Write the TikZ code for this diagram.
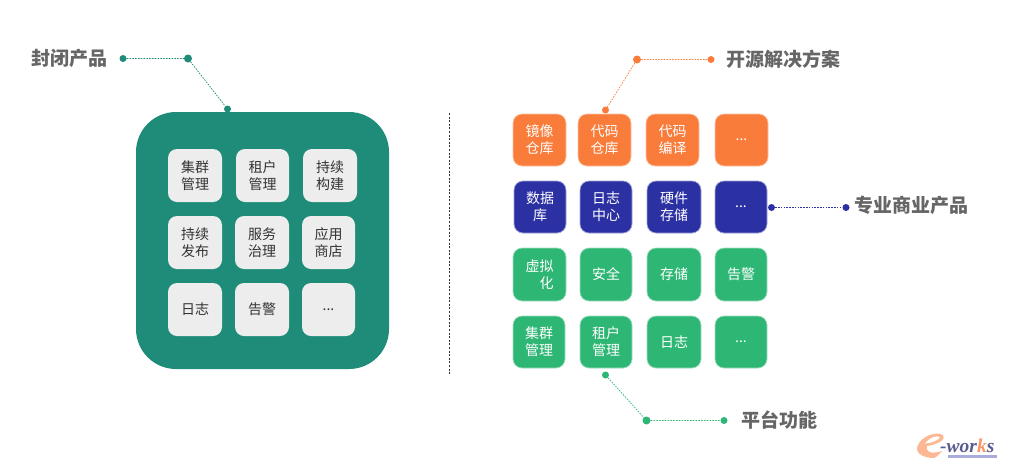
\documentclass[tikz,border=0pt]{standalone}
\usepackage{fontspec}
\setmainfont{Noto Sans CJK SC}
\newfontfamily\logofont{Liberation Serif}
\definecolor{teal1}{HTML}{1E8C78}
\definecolor{orange1}{HTML}{F97C3A}
\definecolor{blue1}{HTML}{2B31A3}
\definecolor{green1}{HTML}{2DB674}
\definecolor{cellgray}{HTML}{EDEDED}
\definecolor{labelgray}{HTML}{666666}
\definecolor{textdark}{HTML}{333333}
\tikzset{
  cell/.style={rounded corners=9pt,inner sep=0pt,outer sep=0pt,align=center,
    font=\fontsize{14}{17}\selectfont},
  graycell/.style={cell,fill=cellgray,text=textdark},
  orangecell/.style={cell,fill=orange1,draw=orange1!45!white,line width=0.7pt,text=white},
  bluecell/.style={cell,fill=blue1,draw=blue1!45!white,line width=0.7pt,text=white},
  greencell/.style={cell,fill=green1,draw=green1!45!white,line width=0.7pt,text=white},
  dot/.style={circle,inner sep=0pt,minimum size=#1},
  dot/.default=7pt,
  callout/.style={font=\fontsize{19}{22}\selectfont\bfseries,text=labelgray,inner sep=0pt},
  lead/.style={line width=0.7pt,dash pattern=on 1.6pt off 1.2pt},
}
\newcommand{\cellbox}[7]{% style,name,x0,x1,y0,y1,text
  \node[#1,minimum width=#4pt-#3pt,minimum height=#6pt-#5pt] (#2) at ({(#3+#4)/2},{(#5+#6)/2}) {#7};}
\begin{document}
\begin{tikzpicture}[x=1pt,y=-1pt]
\useasboundingbox (0,0) rectangle (1012,469);
\node[rounded corners=40pt,fill=teal1,inner sep=0pt,minimum width=253pt,minimum height=257pt] (big) at (262.5,240.5) {};
% left grid
\cellbox{graycell}{a1}{168}{222}{149}{202}{集群\\管理}
\cellbox{graycell}{a2}{236}{289}{149}{202}{租户\\管理}
\cellbox{graycell}{a3}{303}{357}{149}{202}{持续\\构建}
\cellbox{graycell}{b1}{168}{222}{216}{269}{持续\\发布}
\cellbox{graycell}{b2}{235}{289}{216}{269}{服务\\治理}
\cellbox{graycell}{b3}{302}{355}{216}{269}{应用\\商店}
\cellbox{graycell}{c1}{168}{222}{283}{336}{日志}
\cellbox{graycell}{c2}{235}{289}{283}{336}{告警}
\cellbox{graycell}{c3}{302}{355}{283}{336}{...}
% divider
\coordinate (divtop) at (449,113);
\coordinate (divbot) at (449,375);
\draw[line width=0.8pt,textdark,dash pattern=on 2pt off 1.6pt] (divtop) -- (divbot);
% orange row
\cellbox{orangecell}{o1}{513}{566}{114}{166}{镜像\\仓库}
\cellbox{orangecell}{o2}{578}{631}{114}{166}{代码\\仓库}
\cellbox{orangecell}{o3}{646}{699}{114}{166}{代码\\编译}
\cellbox{orangecell}{o4}{715}{768}{114}{166}{...}
% blue row
\cellbox{bluecell}{p1}{514}{566}{181}{233}{数据\\库}
\cellbox{bluecell}{p2}{580}{632}{181}{233}{日志\\中心}
\cellbox{bluecell}{p3}{647}{701}{181}{233}{硬件\\存储}
\cellbox{bluecell}{p4}{715}{767}{181}{233}{...}
% green rows
\cellbox{greencell}{g1}{513}{566}{248}{301}{虚拟\\\hspace*{14pt}化}
\cellbox{greencell}{g2}{580}{632}{248}{301}{安全}
\cellbox{greencell}{g3}{647}{701}{248}{301}{存储}
\cellbox{greencell}{g4}{715}{767}{248}{301}{告警}
\cellbox{greencell}{h1}{513}{565}{316}{368}{集群\\管理}
\cellbox{greencell}{h2}{580}{632}{316}{368}{租户\\管理}
\cellbox{greencell}{h3}{647}{701}{316}{368}{日志}
\cellbox{greencell}{h4}{715}{767}{316}{368}{...}
% callouts
\node[callout,anchor=center] (lclosed) at (69,58) {封闭产品};
\node[dot=7pt,fill=teal1] (d1) at (123,58.5) {};
\node[dot=8pt,fill=teal1] (d2) at (188,58.5) {};
\node[dot=7pt,fill=teal1] (d3) at (227.5,109) {};
\draw[lead,teal1] (d1) -- (d2) -- (d3);
\node[callout,anchor=center] (lopen) at (783,59) {开源解决方案};
\node[dot=7pt,fill=orange1] (e1) at (711,59.5) {};
\node[dot=8pt,fill=orange1] (e2) at (637,59.5) {};
\node[dot=7pt,fill=orange1] (e3) at (605.5,110) {};
\draw[lead,orange1] (e1) -- (e2) -- (e3);
\node[callout,anchor=center] (lpro) at (911,205) {专业商业产品};
\node[dot=7pt,fill=blue1] (f1) at (771.5,207.5) {};
\node[dot=7pt,fill=blue1] (f2) at (846,207.5) {};
\draw[lead,blue1] (f1) -- (f2);
\node[callout,anchor=center] (lplat) at (779,420) {平台功能};
\node[dot=7pt,fill=green1] (k1) at (605.5,375) {};
\node[dot=8pt,fill=green1] (k2) at (646.5,420.5) {};
\node[dot=7pt,fill=green1] (k3) at (724,420.5) {};
\draw[lead,green1] (k1) -- (k2) -- (k3);
% logo
\fill[orange1!55!white] (934,458) .. controls (922,458) and (914,452) .. (918,445)
  .. controls (922,436) and (936,431) .. (943,435) .. controls (946,438) and (941,444) .. (927,446)
  .. controls (925,451) and (930,455) .. (942,451) .. controls (937,456) and (936,458) .. (934,458) -- cycle;
\fill[white] (925,443.5) .. controls (929,438) and (936,435) .. (940,437) .. controls (939,440) and (932,443) .. (925,443.5) -- cycle;
\fill[blue1!40!white] (948,455) rectangle (997,457.5);
\node[inner sep=0pt,anchor=west,font=\logofont\bfseries\itshape\fontsize{19.5}{20}\selectfont,text=blue1!45!gray] (logo) at (940,445.5) {-wor\textcolor{orange1!80!white}{k}s};
\end{tikzpicture}
\end{document}
